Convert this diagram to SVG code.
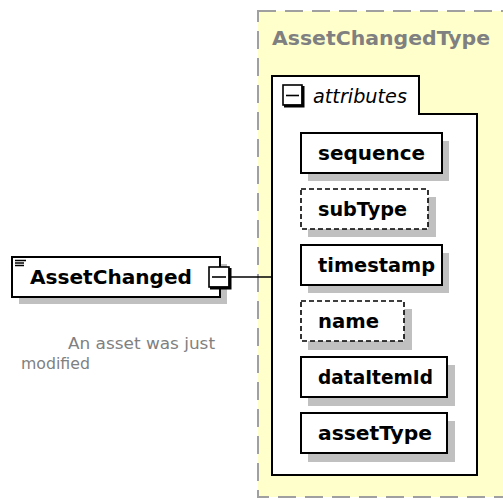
<svg xmlns="http://www.w3.org/2000/svg" width="503" height="499" viewBox="0 0 503 499">
  <style>
    .shadow { fill: #c0c0c0; }
    .box { fill: #ffffff; stroke: #000000; stroke-width: 2; }
    .opt { fill: #ffffff; stroke: #000000; stroke-width: 1.6; stroke-dasharray: 5 3; }
    .lbl { font-family: "DejaVu Sans", Verdana, sans-serif; font-weight: bold; font-size: 20px; fill: #000000; }
    .desc { font-family: "DejaVu Sans", Verdana, sans-serif; font-size: 16px; fill: #808080; }
    .btn { fill: #ffffff; stroke: #000000; stroke-width: 1.6; }
    .btnedge { fill: none; stroke: #000000; stroke-width: 3; }
    .conn { fill: none; stroke: #000000; stroke-width: 1.6; }
  </style>

  <!-- complex type container -->
  <g id="AssetChangedType">
    <rect x="258" y="11" width="262" height="486" fill="#ffffcc" stroke="#a0a0a0" stroke-width="2" stroke-dasharray="18 9"/>
    <text x="272" y="45" class="lbl" fill="#808080" style="fill:#808080" textLength="218" lengthAdjust="spacingAndGlyphs">AssetChangedType</text>
  </g>

  <!-- attribute group tab -->
  <g id="attributes">
    <path d="M272,76 H419 V114 H477 V475 H272 Z" fill="#ffffff" stroke="#000000" stroke-width="2"/>
    <rect x="283" y="85" width="19" height="20" class="btn"/>
    <path d="M284,106 H303 V86" class="btnedge"/>
    <line x1="286" y1="95.5" x2="299" y2="95.5" stroke="#000000" stroke-width="1.6"/>
    <text x="313" y="103" font-family="'DejaVu Sans', Verdana, sans-serif" font-style="italic" font-size="19" fill="#000000" textLength="94" lengthAdjust="spacingAndGlyphs">attributes</text>
  </g>

  <!-- connectors -->
  <g id="connectors">
    <line x1="231" y1="277" x2="272" y2="277" class="conn"/>
  </g>

  <!-- root element -->
  <g id="AssetChanged">
    <rect x="19" y="264" width="208" height="40" class="shadow"/>
    <rect x="12" y="257" width="208" height="40" class="box"/>
    <g stroke="#000000" stroke-width="1.5">
      <line x1="15" y1="260.5" x2="26" y2="260.5"/>
      <line x1="15" y1="263" x2="24" y2="263"/>
      <line x1="15" y1="265.5" x2="24" y2="265.5"/>
    </g>
    <text x="30" y="284" class="lbl" textLength="162" lengthAdjust="spacingAndGlyphs">AssetChanged</text>
    <rect x="209" y="267" width="20" height="20" class="btn"/>
    <path d="M210,288 H230 V268" class="btnedge"/>
    <line x1="212" y1="277" x2="226" y2="277" stroke="#000000" stroke-width="1.6"/>
    <text x="68" y="349" class="desc" textLength="147" lengthAdjust="spacingAndGlyphs">An asset was just</text>
    <text x="21" y="369" class="desc" textLength="69" lengthAdjust="spacingAndGlyphs">modified</text>
  </g>

  <!-- attributes -->
  <g id="attr-sequence">
    <rect x="308" y="141" width="141" height="40" class="shadow"/>
    <rect x="301" y="133" width="141" height="40" class="box"/>
    <text x="318" y="160" class="lbl" textLength="107" lengthAdjust="spacingAndGlyphs">sequence</text>
  </g>
  <g id="attr-subType">
    <rect x="308" y="197" width="128" height="40" class="shadow"/>
    <rect x="301" y="189" width="127" height="40" class="opt"/>
    <text x="318" y="216" class="lbl" textLength="89" lengthAdjust="spacingAndGlyphs">subType</text>
  </g>
  <g id="attr-timestamp">
    <rect x="308" y="253" width="141" height="40" class="shadow"/>
    <rect x="301" y="245" width="141" height="40" class="box"/>
    <text x="318" y="272" class="lbl" textLength="117" lengthAdjust="spacingAndGlyphs">timestamp</text>
  </g>
  <g id="attr-name">
    <rect x="308" y="309" width="104" height="41" class="shadow"/>
    <rect x="301" y="301" width="103" height="40" class="opt"/>
    <text x="318" y="328" class="lbl" textLength="61" lengthAdjust="spacingAndGlyphs">name</text>
  </g>
  <g id="attr-dataItemId">
    <rect x="308" y="365" width="147" height="41" class="shadow"/>
    <rect x="301" y="357" width="146" height="40" class="box"/>
    <text x="318" y="384" class="lbl" textLength="115" lengthAdjust="spacingAndGlyphs">dataItemId</text>
  </g>
  <g id="attr-assetType">
    <rect x="308" y="421" width="147" height="41" class="shadow"/>
    <rect x="301" y="413" width="146" height="40" class="box"/>
    <text x="318" y="440" class="lbl" textLength="114" lengthAdjust="spacingAndGlyphs">assetType</text>
  </g>
</svg>
